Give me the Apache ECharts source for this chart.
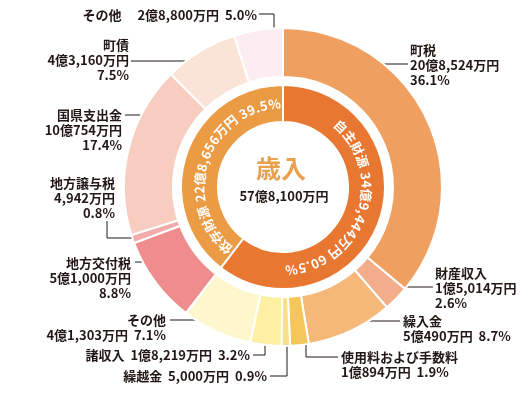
<!DOCTYPE html>
<html><head><meta charset="utf-8">
<script src="https://cdn.jsdelivr.net/npm/echarts@6/dist/echarts.min.js"></script>
<style>html,body{margin:0;padding:0;background:#fff}#c{width:529px;height:395px}</style>
</head><body><div id="c"></div>
<script>
// ---- data ----
const categories = ['町税','財産収入','繰入金','使用料および手数料','繰越金','諸収入','その他','地方交付税','地方譲与税','国県支出金','町債','その他'];
const values = [208524,15014,50490,10894,5000,18219,41303,51000,4942,100754,43160,28800]; // 万円
const percents = ['36.1','2.6','8.7','1.9','0.9','3.2','7.1','8.8','0.8','17.4','7.5','5.0'];
const groupNames = ['自主財源','依存財源'];
const groupValues = [349444,228656];
const groupPercents = ['60.5','39.5'];
const centerTitle = '歳入';

// ---- styles / layout ----
const colors = ['#EFA060','#F2AD8A','#F5B878','#F5C65A','#FADF8C','#FDF0A2','#FEF7CE','#EE8C8E','#F3AAAA','#F6CDBF','#FAE4D8','#FCEDF3'];
const groupColors = ['#E87831','#EC9B45'];
const FONT = '"Noto Sans CJK JP","Noto Sans",sans-serif';
const TXT = '#231815';
const cx = 283, cy = 187;
const labelPos = [
  {mode:3, align:'left',  x:410, y:50,  line:[[375,64],[408,64]]},
  {mode:3, align:'left',  x:435, y:273, line:[[392,287],[433,287]]},
  {mode:2, align:'left',  x:403, y:321, line:[[354,321],[400,321]]},
  {mode:2, align:'left',  x:341, y:357, line:[[306,338],[306,357],[338,357]]},
  {mode:1, align:'right', x:267, y:376, line:[[287,339],[287,376],[270,376]], sep:'  '},
  {mode:1, align:'right', x:250, y:355, line:[[265,335],[265,355],[253,355]], sep:'  '},
  {mode:2, align:'right', x:166, y:320, line:[[242,320],[170,320]]},
  {mode:3, align:'right', x:131, y:263, line:[[153,262],[135,262]]},
  {mode:3, align:'right', x:115, y:183, line:[[139,238],[107,238],[107,221]]},
  {mode:3, align:'right', x:122, y:115, line:[[164,115],[125,115]]},
  {mode:3, align:'right', x:129, y:45,  line:[[195,61],[131,61]]},
  {mode:1, align:'right', x:257, y:15,  line:[[274,34],[274,14],[259,14]], sep:'\u3000 '}
];

function fmt(v){
  const oku = Math.floor(v/10000), man = v % 10000;
  let s = '';
  if (oku) s += oku + '億';
  if (man) s += man.toLocaleString('en-US');
  return s + '万円';
}
const total = values.reduce((a,b)=>a+b,0);

function labelText(i){
  const n = categories[i], v = fmt(values[i]), p = percents[i] + '%';
  const L = labelPos[i];
  if (L.mode === 3) return n + '\n' + v + '\n' + p;
  if (L.mode === 2) return n + '\n' + v + '  ' + p;
  return n + L.sep + v + '  ' + p;
}

const chart = echarts.init(document.getElementById('c'));

// curved text along inner ring
function arcText(str, midDeg, r, spacing){
  const ctx = document.createElement('canvas').getContext('2d');
  const font = 'bold 13px ' + FONT;
  ctx.font = font;
  const chars = Array.from(str);
  const ws = chars.map(c => ctx.measureText(c).width + spacing);
  const tot = ws.reduce((a,b)=>a+b,0);
  let acc = -tot/2;
  return chars.map((c,i) => {
    const s = acc + ws[i]/2; acc += ws[i];
    const th = midDeg*Math.PI/180 + s/r;
    return {type:'text', x: cx + r*Math.sin(th), y: cy - r*Math.cos(th), rotation: -th, z: 100,
      style:{text:c, fill:'#fff', font:font, align:'center', verticalAlign:'middle', textAlign:'center', textVerticalAlign:'middle'}};
  });
}
const gTotal = groupValues.reduce((a,b)=>a+b,0);
let cum = 0;
const arcEls = [];
groupValues.forEach((v,i) => {
  const mid = (cum + v/2)/gTotal*360; cum += v;
  const str = groupNames[i] + ' ' + fmt(v) + ' ' + groupPercents[i] + '%';
  arcEls.push(...arcText(str, mid, 83.5, 0.8));
});

chart.setOption({
  animation:false,
  color: colors,
  series:[
    {
      type:'pie', center:[cx,cy], radius:[110,159], startAngle:90, clockwise:true,
      avoidLabelOverlap:false,
      itemStyle:{borderColor:'#fff', borderWidth:2},
      label:{show:true, position:'outside', color:TXT, fontSize:13, fontWeight:'bold', lineHeight:15, fontFamily:FONT,
        formatter: p => labelText(p.dataIndex)},
      labelLine:{show:true, lineStyle:{color:TXT, width:1}},
      labelLayout: p => {
        const L = labelPos[p.dataIndex];
        return {x:L.x, y:L.y - 7.5, align:L.align, verticalAlign:'top', labelLinePoints:L.line};
      },
      emphasis:{disabled:true},
      data: categories.map((n,i)=>({name:n, value:values[i], itemStyle:{color:colors[i]}}))
    },
    {
      type:'pie', center:[cx,cy], radius:[65,102], startAngle:90, clockwise:true,
      itemStyle:{borderColor:'#fff', borderWidth:2},
      label:{show:false}, labelLine:{show:false},
      emphasis:{disabled:true},
      data: groupNames.map((n,i)=>({name:n, value:groupValues[i], itemStyle:{color:groupColors[i]}}))
    }
  ],
  graphic: [
    {type:'text', x:281, y:168, z:100, style:{text:centerTitle, fill:'#E9A04C', font:'bold 25px '+FONT, align:'center', verticalAlign:'middle', textAlign:'center', textVerticalAlign:'middle'}},
    {type:'text', x:284, y:196, z:100, style:{text:fmt(total), fill:TXT, font:'bold 13px '+FONT, align:'center', verticalAlign:'middle', textAlign:'center', textVerticalAlign:'middle'}},
    ...arcEls
  ]
});
</script></body></html>
